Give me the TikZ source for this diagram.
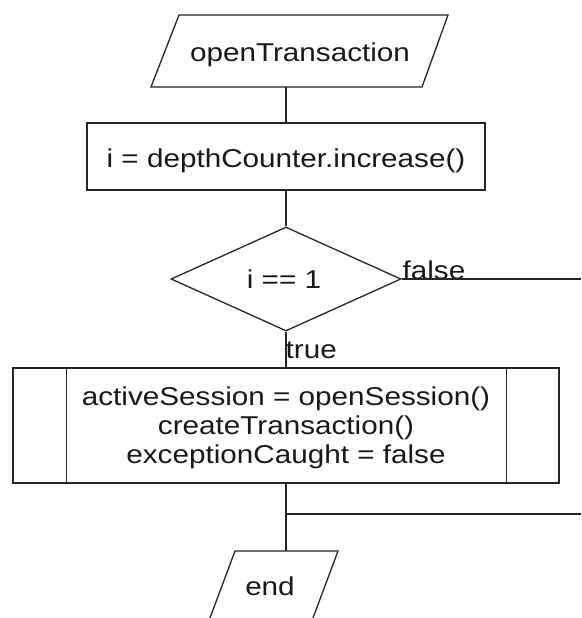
\documentclass[tikz,border=0pt]{standalone}
\usepackage{fontspec}
\setmainfont{Liberation Sans}[FakeStretch=1.15]
\usetikzlibrary{shapes.geometric}
\begin{document}
\begin{tikzpicture}[x=1pt,y=-1pt,line width=1.3pt,
  every node/.style={font=\fontsize{25.8}{29}\selectfont, inner sep=0pt, text=black!90},
  shapeline/.style={draw=black!85, line join=miter},
  procbox/.style={shapeline, rectangle},
  decbox/.style={shapeline, diamond},
  conn/.style={draw=black!85},
  lbl/.style={anchor=base}]
\useasboundingbox (0,0) rectangle (581,618);
\fill[white] (0,0) rectangle (581,618);
\clip (0,0) rectangle (581,618);

% start parallelogram
\draw[shapeline] (179,15) -- (448,15) -- (422,87) -- (151,87) -- cycle;
\node[lbl] (start) at (300,62) {openTransaction};
\coordinate (startB) at (286,87);

% increase box
\node[procbox, minimum width=398pt, minimum height=67pt] (inc) at (286,156.5) {};
\node[lbl] (inct) at (286,167) {i = depthCounter.increase()};

% decision
\node[decbox, minimum width=230pt, minimum height=104pt] (dec) at (286,279) {};
\node[lbl] (dect) at (284,288) {i == 1};
\node[anchor=base west] (false) at (402,279) {false};
\node[anchor=base west] (true) at (285,358) {true};
\coordinate (fend) at (581,279);

% predefined process
\node[procbox, minimum width=546pt, minimum height=115pt] (proc) at (286,425.5) {};
\draw[shapeline] ([xshift=54pt]proc.north west) -- ([xshift=54pt]proc.south west);
\draw[shapeline] ([xshift=-53pt]proc.north east) -- ([xshift=-53pt]proc.south east);
\node[align=center] (proct) at (286,428) {activeSession = openSession()\\createTransaction()\\exceptionCaught = false};

% junction
\coordinate (j) at (286,514);
\coordinate (jend) at (581,514);

% end parallelogram
\draw[shapeline] (235,551) -- (338,551) -- (310,626) -- (207,626) -- cycle;
\coordinate (endT) at (286,551);
\node[lbl] (endt) at (270,595) {end};

% connectors
\draw[conn] (startB) -- (inc.north);
\draw[conn] (inc.south) -- (dec.north);
\draw[conn] (dec.east) -- (fend);
\draw[conn] (dec.south) -- (proc.north);
\draw[conn] (proc.south) -- (endT);
\draw[conn] (j) -- (jend);
\end{tikzpicture}
\end{document}
